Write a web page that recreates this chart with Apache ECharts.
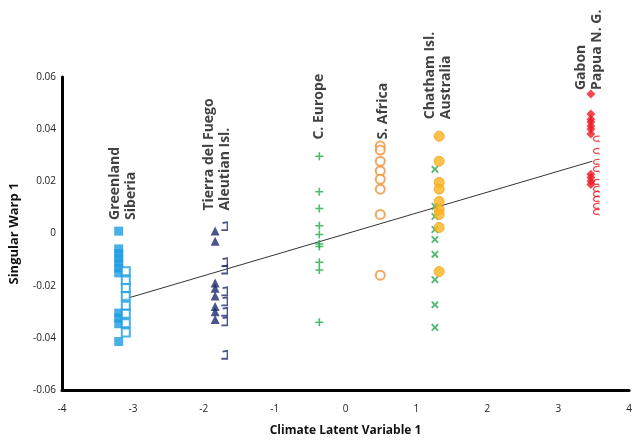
<!DOCTYPE html>
<html>
<head>
<meta charset="utf-8">
<script src="https://cdn.jsdelivr.net/npm/echarts@6/dist/echarts.min.js"></script>
<style>html,body{margin:0;padding:0;background:#fff}#c{width:635px;height:443px}</style>
</head>
<body>
<div id="c"></div>
<script>
// ---- data ----
const xTicks = [-4, -3, -2, -1, 0, 1, 2, 3, 4];
const yTicks = [-0.06, -0.04, -0.02, 0, 0.02, 0.04, 0.06];

const greenlandX = -3.2;
const greenlandY = [0.0009, -0.0059, -0.0077, -0.0095, -0.0113, -0.0132, -0.0151, -0.0305, -0.0324, -0.0346, -0.0414];
const siberiaX = -3.1;
const siberiaY = [-0.0145, -0.018, -0.0209, -0.0241, -0.0277, -0.0308, -0.0344, -0.038];
const tierraX = -1.84;
const tierraY = [0.001, -0.003, -0.019, -0.021, -0.024, -0.028, -0.030, -0.033];
const aleutianX = -1.71;
const aleutianY = [0.0028, -0.011, -0.0138, -0.0222, -0.026, -0.030, -0.0337, -0.0465];
const europeX = -0.37;
const europeY = [0.0296, 0.016, 0.0096, 0.003, -0.0004, -0.004, -0.005, -0.011, -0.014, -0.034];
const safricaX = 0.49;
const safricaY = [0.0335, 0.032, 0.0277, 0.024, 0.0208, 0.017, 0.0073, -0.016];
const chathamX = 1.32;
const chathamY = [0.0373, 0.0277, 0.0196, 0.017, 0.0123, 0.0092, 0.0073, 0.0023, -0.0146];
const australiaX = 1.26;
const australiaY = [0.0246, 0.0104, 0.0065, 0.0015, -0.0023, -0.008, -0.0177, -0.0273, -0.036];
const gabonX = 3.46;
const gabonY = [0.0535, 0.0458, 0.0438, 0.0427, 0.0412, 0.040, 0.0381, 0.0227, 0.0215, 0.020, 0.0188];
const papuaX = 3.54;
const papuaY = [0.0362, 0.0315, 0.0273, 0.0246, 0.0196, 0.0169, 0.015, 0.0131, 0.0104, 0.0081];

const fitLine = [[-3.15, -0.0254], [3.48, 0.0277]];

const groupLabels = [
  [-3.14, 0.0052, 'Greenland\nSiberia'],
  [-1.81, 0.0088, 'Tierra del Fuego\nAleutian Isl.'],
  [-0.37, 0.036, 'C. Europe'],
  [0.53, 0.036, 'S. Africa'],
  [1.30, 0.0438, 'Chatham Isl.\nAustralia'],
  [3.44, 0.055, 'Gabon\nPapua N. G.']
];

const xName = 'Climate Latent Variable 1';
const yName = 'Singular Warp 1';

// ---- chart ----
const pts = (x, ys) => ys.map(y => [x, y]);
const plusPath = 'path://M4,0 H6 V4 H10 V6 H6 V10 H4 V6 H0 V4 H4 Z';
const hookL = 'path://M1,1 L5,0 L5,10 L0,10';
const hookC = 'path://M8,1 C3,0 0,2 0,5 C0,8 3,9 6,8 L8,10';
const FONT = "'Open Sans', sans-serif";

const chart = echarts.init(document.getElementById('c'), null, {renderer: 'canvas'});
chart.setOption({
  animation: false,
  grid: {left: 62, right: 3, top: 77, bottom: 53},
  xAxis: {
    type: 'value', min: -4, max: 4, interval: 1,
    name: xName, nameLocation: 'middle', nameGap: 35,
    nameTextStyle: {fontFamily: FONT, fontWeight: 'bold', fontSize: 12, color: '#111'},
    axisLine: {show: true, onZero: false, lineStyle: {color: '#000', width: 3}},
    axisTick: {show: false}, splitLine: {show: false},
    axisLabel: {fontFamily: FONT, fontSize: 10, color: '#222', margin: 14,
      formatter: v => String(Math.round(v))}
  },
  yAxis: {
    type: 'value', min: -0.06, max: 0.06, interval: 0.02,
    name: yName, nameLocation: 'middle', nameGap: 41, nameRotate: 90,
    nameTextStyle: {fontFamily: FONT, fontWeight: 'bold', fontSize: 13, color: '#111'},
    axisLine: {show: true, onZero: false, lineStyle: {color: '#000', width: 3}},
    axisTick: {show: false}, splitLine: {show: false},
    axisLabel: {fontFamily: FONT, fontSize: 10, color: '#222', margin: 6,
      formatter: v => Math.abs(v) < 1e-9 ? '0' : v.toFixed(2)}
  },
  series: [
    {type: 'line', data: fitLine, symbol: 'none', lineStyle: {color: '#333', width: 1}, z: 1},
    {type: 'scatter', data: pts(greenlandX, greenlandY), symbol: 'rect', symbolSize: 9,
      itemStyle: {color: '#1b9de2'}},
    {type: 'scatter', data: pts(siberiaX, siberiaY), symbol: 'rect', symbolSize: 8,
      itemStyle: {color: '#fff', borderColor: '#1b9de2', borderWidth: 2}},
    {type: 'scatter', data: pts(tierraX, tierraY), symbol: 'triangle', symbolSize: 9,
      itemStyle: {color: '#1d2a6b'}},
    {type: 'scatter', data: pts(aleutianX, aleutianY), symbol: hookL, symbolSize: [6, 8],
      itemStyle: {color: 'rgba(0,0,0,0)', borderColor: '#1d2a6b', borderWidth: 1.6}},
    {type: 'scatter', data: pts(europeX, europeY), symbol: plusPath, symbolSize: 8,
      itemStyle: {color: '#21a84a'}},
    {type: 'scatter', data: pts(safricaX, safricaY), symbol: 'circle', symbolSize: 9,
      itemStyle: {color: '#fff', borderColor: '#f0923a', borderWidth: 2}},
    {type: 'scatter', data: pts(australiaX, australiaY), symbol: plusPath, symbolSize: 9, symbolRotate: 45,
      itemStyle: {color: '#21a84a'}},
    {type: 'scatter', data: pts(chathamX, chathamY), symbol: 'circle', symbolSize: 10,
      itemStyle: {color: '#fbb41a', borderColor: '#f29d1e', borderWidth: 1}},
    {type: 'scatter', data: pts(gabonX, gabonY), symbol: 'diamond', symbolSize: 9,
      itemStyle: {color: '#ee1c24'}},
    {type: 'scatter', data: pts(papuaX, papuaY), symbol: hookC, symbolSize: [6, 6],
      itemStyle: {color: 'rgba(0,0,0,0)', borderColor: '#ee1c24', borderWidth: 1.3}},
    {type: 'scatter', data: groupLabels, symbolSize: 0, silent: true,
      label: {show: true, position: [0, 0], rotate: 90, align: 'left', verticalAlign: 'middle',
        formatter: p => p.data[2], fontFamily: FONT, fontWeight: 'bold', fontSize: 14,
        lineHeight: 16, color: '#111'}}
  ]
});
</script>
</body>
</html>
